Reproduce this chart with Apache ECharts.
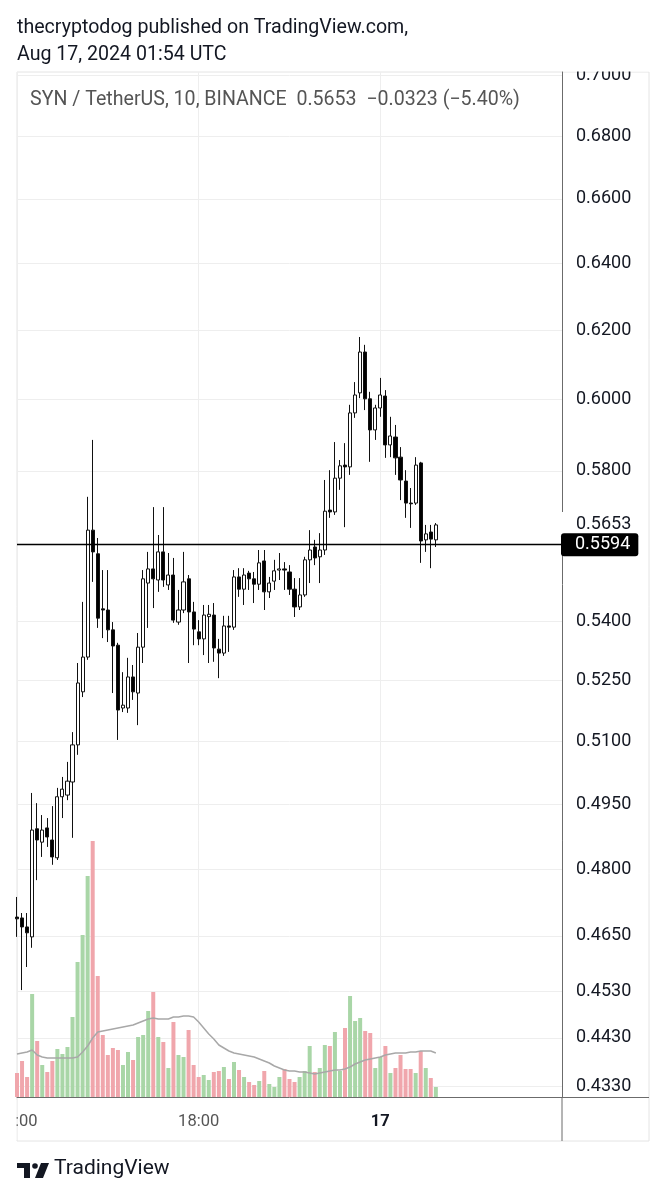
<!DOCTYPE html>
<html><head><meta charset="utf-8">
<script src="https://cdn.jsdelivr.net/npm/echarts@6/dist/echarts.min.js"></script>
<style>html,body{margin:0;padding:0;background:#fff;}#chart{width:662px;height:1200px;}</style>
</head><body><div id="chart"></div>
<script>
// 10-minute candles, 16 Aug 12:00 UTC -> 17 Aug 01:50 UTC
const openP = [
0.4692,0.4690,0.4670,0.4648,0.4893,0.4862,0.4895,0.4867,0.4826,0.4968,
0.4972,0.5003,0.5092,0.5222,0.5309,0.5639,0.5576,0.5432,0.5429,0.5378,
0.5339,0.5182,0.5182,0.5259,0.5219,0.5334,0.5499,0.5536,0.5507,0.5581,
0.5494,0.5520,0.5398,0.5429,0.5510,0.5424,0.5373,0.5355,0.5412,0.5416,
0.5329,0.5319,0.5388,0.5385,0.5515,0.5483,0.5525,0.5510,0.5496,0.5557,
0.5476,0.5504,0.5533,0.5536,0.5528,0.5483,0.5437,0.5468,0.5560,0.5594,
0.5568,0.5586,0.5693,0.5688,0.5780,0.5816,0.5811,0.5962,0.6019,0.6137,
0.6002,0.5914,0.5976,0.6010,0.5872,0.5894,0.5838,0.5772,0.5712,0.5712,
0.5822,0.5613,0.5634,0.5613];
const closeP = [
0.4688,0.4670,0.4657,0.4890,0.4867,0.4890,0.4874,0.4828,0.4968,0.4986,
0.5005,0.5092,0.5244,0.5309,0.5639,0.5581,0.5408,0.5429,0.5378,0.5337,
0.5177,0.5189,0.5259,0.5222,0.5334,0.5510,0.5536,0.5510,0.5581,0.5507,
0.5520,0.5403,0.5429,0.5502,0.5424,0.5380,0.5355,0.5416,0.5418,0.5332,
0.5319,0.5388,0.5385,0.5515,0.5483,0.5520,0.5510,0.5496,0.5552,0.5476,
0.5499,0.5531,0.5536,0.5533,0.5483,0.5437,0.5468,0.5560,0.5586,0.5565,
0.5586,0.5690,0.5688,0.5780,0.5814,0.5811,0.5962,0.6013,0.6137,0.6002,
0.5914,0.5976,0.6013,0.5872,0.5897,0.5836,0.5775,0.5712,0.5710,0.5816,
0.5610,0.5629,0.5615,0.5653];
const highP = [
0.4737,0.4701,0.4701,0.4977,0.4953,0.4925,0.4918,0.4946,0.4989,0.5015,
0.5051,0.5123,0.5294,0.5450,0.5729,0.5886,0.5618,0.5533,0.5533,0.5398,
0.5345,0.5271,0.5307,0.5289,0.5370,0.5533,0.5581,0.5701,0.5626,0.5701,
0.5578,0.5565,0.5481,0.5581,0.5520,0.5450,0.5403,0.5442,0.5442,0.5447,
0.5355,0.5414,0.5414,0.5533,0.5538,0.5538,0.5531,0.5528,0.5586,0.5586,
0.5515,0.5560,0.5578,0.5554,0.5546,0.5512,0.5512,0.5568,0.5639,0.5613,
0.5631,0.5775,0.5802,0.5880,0.5830,0.5877,0.5985,0.6050,0.6181,0.6158,
0.6022,0.5985,0.6062,0.6027,0.5951,0.5928,0.5866,0.5802,0.5753,0.5838,
0.5825,0.5653,0.5653,0.5658];
const lowP = [
0.4648,0.4532,0.4582,0.4624,0.4775,0.4828,0.4851,0.4810,0.4821,0.4918,
0.4960,0.4872,0.5068,0.5209,0.5302,0.5502,0.5383,0.5357,0.5347,0.5219,
0.5104,0.5172,0.5170,0.5202,0.5140,0.5294,0.5383,0.5434,0.5476,0.5489,
0.5481,0.5396,0.5391,0.5421,0.5294,0.5339,0.5339,0.5314,0.5294,0.5297,
0.5256,0.5312,0.5322,0.5378,0.5463,0.5442,0.5481,0.5447,0.5481,0.5429,
0.5460,0.5481,0.5507,0.5481,0.5468,0.5411,0.5429,0.5463,0.5499,0.5546,
0.5499,0.5573,0.5672,0.5680,0.5748,0.5647,0.5789,0.5948,0.6004,0.5970,
0.5825,0.5886,0.5951,0.5836,0.5838,0.5789,0.5720,0.5672,0.5645,0.5707,
0.5552,0.5581,0.5538,0.5594];
// volume (relative units, thousands)
const volume = [
24,36,20,103,56,32,25,36,48,43,
50,80,135,162,221,256,121,62,42,49,
47,32,45,37,60,62,86,105,60,55,
29,75,42,40,67,32,20,22,17,25,
26,30,18,35,27,20,15,12,16,26,
13,10,20,28,18,15,20,26,51,25,
29,52,51,65,26,69,101,76,79,66,
64,29,40,51,24,29,42,28,28,24,
46,29,19,10];
// volume moving average as drawn
const volumeMA = [
43,44,45,47,42,40,39,39,39,39,
39,39,40,45,51,59,65,66,67,68,
69,70,71,72,74,76,78,79,78,78,
78,80,80,81,81,80,75,69,63,58,
52,49,46,44,43,42,41,40,38,36,
34,31,29,27,26,26,25,25,24,23,
24,25,26,27,27,28,30,33,35,37,
38,39,40,42,43,44,44,44,45,45,
46,46,46,44];
const yTicks = [0.7000,0.6800,0.6600,0.6400,0.6200,0.6000,0.5800,0.5400,0.5250,0.5100,0.4950,0.4800,0.4650,0.4530,0.4430,0.4330];
const xTickLabels = {'12:00':'12:00','18:00':'18:00','00:00':'17'};
const lastPrice = 0.5653;
const levelPrice = 0.5594;
const slots = 109;

const categories = [];
for (let i = 0; i < slots; i++) {
  const m = 12 * 60 + i * 10;
  const h = Math.floor(m / 60) % 24, mm = m % 60;
  categories.push(String(h).padStart(2, '0') + ':' + String(mm).padStart(2, '0'));
}

const FONT = 'Roboto';
const PMIN = 0.43075, PMAX = 0.70104;
const candleData = openP.map((o, i) => [o, closeP[i], lowP[i], highP[i]]);
const volData = volume.map((v, i) => ({
  value: v,
  itemStyle: { color: closeP[i] >= openP[i] ? '#a9d6a7' : '#f0a6ac' }
}));

const chart = echarts.init(document.getElementById('chart'), null, { renderer: 'canvas' });
const option = {
  animation: false,
  backgroundColor: '#ffffff',
  textStyle: { fontFamily: FONT },
  title: [
    { text: 'thecryptodog published on TradingView.com,\nAug 17, 2024 01:54 UTC', left: 17, top: 15, padding: 0,
      textStyle: { fontFamily: FONT, fontSize: 19.6, fontWeight: 'normal', color: '#131722', lineHeight: 27 } },
    { text: 'SYN / TetherUS, 10, BINANCE  0.5653  \u22120.0323 (\u22125.40%)', left: 30, top: 90, padding: 0,
      textStyle: { fontFamily: FONT, fontSize: 19.6, fontWeight: 'normal', color: '#555555' } }
  ],
  grid: { left: 17, right: 100, top: 72, bottom: 103, containLabel: false, outerBoundsMode: 'none' },
  xAxis: {
    type: 'category', data: categories, boundaryGap: false,
    axisLine: { show: true, lineStyle: { color: '#6b6b6b', width: 1 } },
    axisTick: { show: false },
    axisLabel: {
      interval: (i, v) => v in xTickLabels,
      formatter: v => v === '00:00' ? '{b|17}' : xTickLabels[v],
      fontFamily: FONT, fontSize: 16.5, color: '#555555', margin: 16,
      rich: { b: { fontFamily: FONT, fontWeight: 'bold', fontSize: 16.5, color: '#131722' } }
    },
    splitLine: { show: true, interval: (i, v) => v in xTickLabels, lineStyle: { color: '#eeeeee', width: 1 } }
  },
  yAxis: [
    { type: 'log', logBase: 10, min: PMIN, max: PMAX, position: 'right',
      axisLine: { show: true, lineStyle: { color: '#6b6b6b', width: 1 } },
      axisTick: { show: false, customValues: yTicks },
      axisLabel: { customValues: yTicks, formatter: v => Number(v).toFixed(4), fontFamily: FONT, fontSize: 18, color: '#131722', margin: 14 },
      splitLine: { show: true, lineStyle: { color: '#eeeeee', width: 1 } }
    },
    { type: 'value', min: 0, max: 1025, show: false, splitLine: { show: false } },
    // last-price label on the price scale
    { type: 'log', logBase: 10, min: PMIN, max: PMAX, position: 'right', offset: 0,
      axisLine: { show: false }, splitLine: { show: false },
      axisTick: { show: false, customValues: [lastPrice] },
      axisLabel: { customValues: [lastPrice], formatter: v => Number(v).toFixed(4), fontFamily: FONT, fontSize: 18,
        color: '#131722', margin: -1, backgroundColor: '#ffffff', padding: [4, 10, 4, 15] }
    }
  ],
  series: [
    { type: 'bar', name: 'Volume', yAxisIndex: 1, data: volData, barWidth: 4, z: 2, silent: true },
    { type: 'line', name: 'Volume MA', yAxisIndex: 1, data: volumeMA, showSymbol: false, smooth: false,
      lineStyle: { color: '#a8a8a8', width: 1.5 }, z: 2, silent: true },
    { type: 'candlestick', name: 'SYNUSDT', data: candleData, barWidth: 3.6, z: 3,
      itemStyle: { color: '#ffffff', color0: '#000000', borderColor: '#111111', borderColor0: '#111111', borderWidth: 1 },
      markLine: {
        symbol: ['none', 'none'], silent: true, animation: false,
        data: [
          { yAxis: levelPrice, lineStyle: { color: '#000000', width: 1.3, type: 'solid' },
            label: { show: true, position: 'end', distance: -1, formatter: () => levelPrice.toFixed(4),
              backgroundColor: '#000000', color: '#ffffff', fontFamily: FONT, fontSize: 18,
              padding: [3, 8, 2, 14], borderRadius: 3 } }
        ]
      }
    }
  ],
  graphic: [
    { type: 'rect', silent: true, z: -10, shape: { x: 17, y: 72, width: 632, height: 1069 },
      style: { fill: 'none', stroke: '#e4e4e4', lineWidth: 1 } },
    { type: 'line', silent: true, z: 50, shape: { x1: 562, y1: 1097, x2: 562, y2: 1141 },
      style: { stroke: '#6b6b6b', lineWidth: 1 } },
    { type: 'line', silent: true, z: 50, shape: { x1: 562, y1: 1097.5, x2: 649, y2: 1097.5 },
      style: { stroke: '#6b6b6b', lineWidth: 1 } },
    { type: 'rect', silent: true, z: 100, shape: { x: 0, y: 1100, width: 16.5, height: 40 }, style: { fill: '#ffffff' } },
    { type: 'rect', silent: true, z: 100, shape: { x: 563, y: 50, width: 99, height: 21.5 }, style: { fill: '#ffffff' } },
    // TradingView logo
    { type: 'rect', silent: true, z: 100, shape: { x: 17, y: 1163, width: 13, height: 5 }, style: { fill: '#131722' } },
    { type: 'rect', silent: true, z: 100, shape: { x: 24, y: 1163, width: 6, height: 15 }, style: { fill: '#131722' } },
    { type: 'circle', silent: true, z: 100, shape: { cx: 35, cy: 1166, r: 2.8 }, style: { fill: '#131722' } },
    { type: 'polygon', silent: true, z: 100, shape: { points: [[41, 1163], [49, 1163], [43, 1178], [35, 1178]] }, style: { fill: '#131722' } },
    { type: 'text', silent: true, z: 100, left: 54, top: 1158,
      style: { text: 'TradingView', fontFamily: FONT, fontSize: 21, fill: '#131722' } }
  ]
};
chart.setOption(option);
</script>
</body></html>
